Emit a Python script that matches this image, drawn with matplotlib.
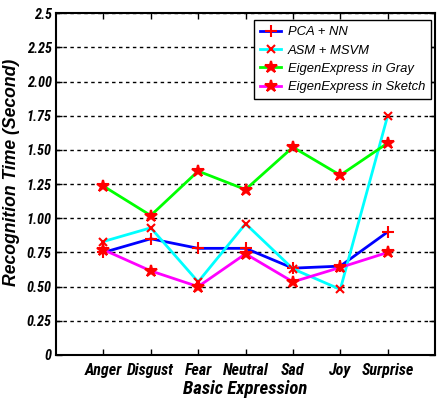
import matplotlib
matplotlib.use("Agg")
import matplotlib.pyplot as plt

expresiones = ["Anger", "Disgust", "Fear", "Neutral", "Sad", "Joy", "Surprise"]
pca_nn = [0.75, 0.85, 0.78, 0.78, 0.635, 0.65, 0.90]
asm_msvm = [0.83, 0.93, 0.535, 0.96, 0.63, 0.48, 1.75]
eigen_gray = [1.235, 1.02, 1.345, 1.21, 1.52, 1.315, 1.55]
eigen_sketch = [0.77, 0.615, 0.50, 0.74, 0.535, 0.64, 0.75]
yticks = [0, 0.25, 0.5, 0.75, 1.0, 1.25, 1.5, 1.75, 2.0, 2.25, 2.5]
ylabels = ["0", "0.25", "0.50", "0.75", "1.00", "1.25", "1.50", "1.75", "2.00", "2.25", "2.5"]

# letra angosta para ticks y etiqueta del eje x
angosta = ["Roboto Condensed", "Barlow Condensed", "Liberation Sans", "DejaVu Sans"]
plt.rcParams["font.family"] = ["Liberation Sans", "DejaVu Sans"]

fig = plt.figure(figsize=(4.39, 3.99), dpi=100)
ax = fig.add_axes([0.1276, 0.1103, 0.8634, 0.8567])

x = list(range(1, len(expresiones) + 1))
series = [
    (pca_nn, "#0000ff", "+", 9, "PCA + NN"),
    (asm_msvm, "#00ffff", "x", 6, "ASM + MSVM"),
    (eigen_gray, "#00ff00", "*", 9, "EigenExpress in Gray"),
    (eigen_sketch, "#ff00ff", "*", 9, "EigenExpress in Sketch"),
]
for valores, color, marca, tam, nombre in series:
    ax.plot(x, valores, color=color, lw=2, marker=marca, ms=tam,
            mec="red", mfc="red", mew=1.5, label=nombre)

ax.set_xlim(0, 8)
ax.set_ylim(0, 2.5)
ax.set_xticks(x)
ax.set_xticklabels(expresiones)
ax.set_yticks(yticks)
ax.set_yticklabels(ylabels)
ax.yaxis.grid(True, ls=(0, (2.5, 2.5)), color="black", lw=1)
ax.tick_params(direction="in", top=True, right=True, length=4, width=1)
ax.tick_params(axis="x", pad=6)
ax.tick_params(axis="y", pad=3)
for lbl in ax.get_xticklabels():
    lbl.set_family(angosta)
    lbl.set_fontsize(11.5)
    lbl.set_fontweight("bold")
    lbl.set_fontstyle("italic")
for lbl in ax.get_yticklabels():
    lbl.set_family(angosta)
    lbl.set_fontsize(10.3)
    lbl.set_fontweight("bold")
    lbl.set_fontstyle("italic")
for s in ax.spines.values():
    s.set_linewidth(1.5)

ax.set_xlabel("Basic Expression", fontsize=13.5, fontweight="bold", fontstyle="italic",
              family=angosta)
ax.xaxis.set_label_coords(0.5, -0.074)
ax.set_ylabel("Recognition Time (Second)", fontsize=12.7, fontweight="bold", fontstyle="italic")
ax.yaxis.set_label_coords(-0.095, 0.535)

leg = ax.legend(loc="upper right", prop={"style": "italic", "size": 9.4},
                fancybox=False, edgecolor="black", framealpha=1, borderpad=0.45,
                labelspacing=0.48, handlelength=1.6, handletextpad=0.5,
                borderaxespad=0, bbox_to_anchor=(0.9894, 0.9795))
leg.get_frame().set_linewidth(1)

fig.savefig("out.png", dpi=100)
